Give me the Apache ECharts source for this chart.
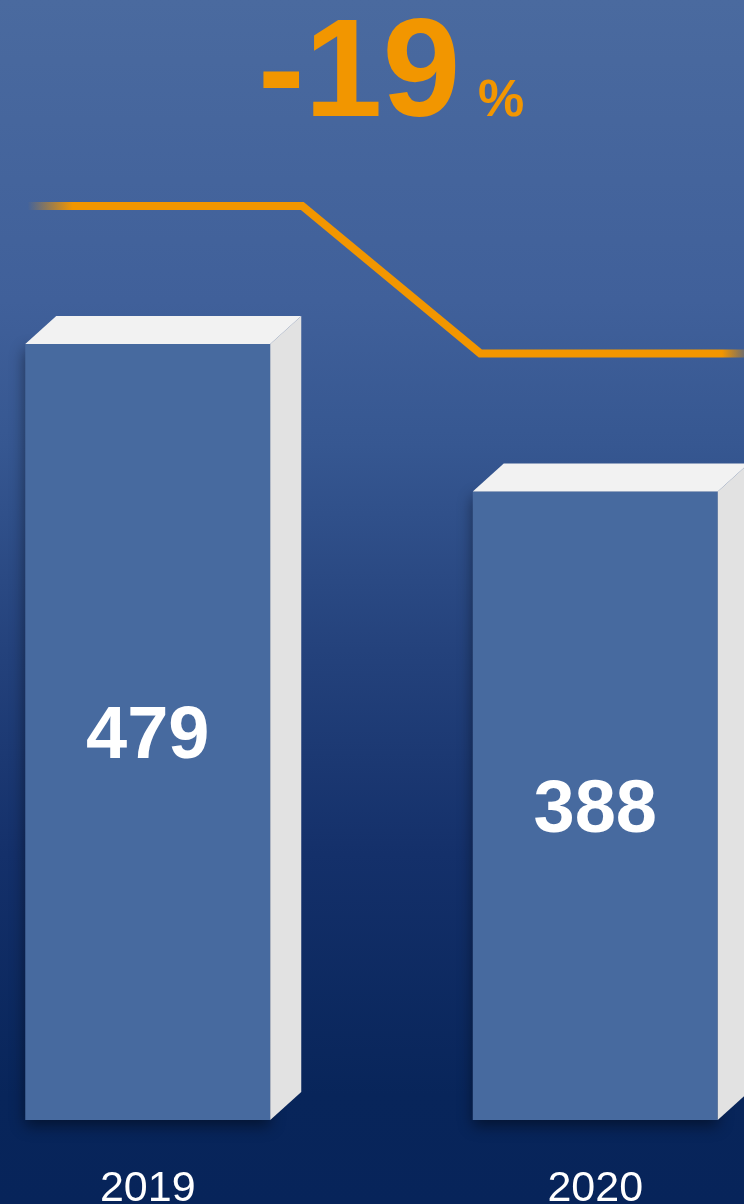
<!DOCTYPE html>
<html>
<head>
<meta charset="utf-8">
<script src="https://cdn.jsdelivr.net/npm/echarts@6/dist/echarts.min.js"></script>
<style>
  html, body { margin: 0; padding: 0; }
  #chart { width: 744px; height: 1204px; }
</style>
</head>
<body>
<div id="chart"></div>
<script>
// 数据
var years = ['2019', '2020'];
var values = [479, 388];
var changeText = '-19';

var barWidth = 245;
var depthX = 31;   // 立体侧面偏移
var depthY = 28;
var lineLift = 138; // 折线高出柱顶的像素

var chart = echarts.init(document.getElementById('chart'));

var orange = '#f29600';

var option = {
    backgroundColor: {
        type: 'linear', x: 0, y: 0, x2: 0, y2: 1,
        colorStops: [
            { offset: 0, color: '#4a6a9f' },
            { offset: 0.25, color: '#40609a' },
            { offset: 0.37, color: '#365791' },
            { offset: 0.54, color: '#24427c' },
            { offset: 0.71, color: '#14306a' },
            { offset: 0.91, color: '#08255a' },
            { offset: 1, color: '#07245a' }
        ]
    },
    graphic: [
        {
            type: 'text', left: 258, top: 7,
            style: {
                text: changeText, fill: orange,
                font: 'bold 140px "Liberation Sans", Arial, sans-serif'
            }
        },
        {
            type: 'text', left: 478, top: 76,
            style: {
                text: '%', fill: orange,
                font: 'bold 52px "Liberation Sans", Arial, sans-serif'
            }
        }
    ],
    grid: {
        left: -76,
        right: -75,
        top: 148,
        bottom: 84,
        outerBoundsMode: 'none',
        containLabel: false
    },
    xAxis: {
        type: 'category',
        data: years,
        axisLine: { show: false },
        axisTick: { show: false },
        axisLabel: {
            color: '#ffffff',
            fontSize: 43,
            fontFamily: '"Liberation Sans", Arial, sans-serif',
            margin: 48
        }
    },
    yAxis: {
        type: 'value',
        min: 0,
        max: 600,
        show: false,
        splitLine: { show: false }
    },
    series: [
        {
            type: 'bar',
            data: values,
            barWidth: barWidth,
            itemStyle: {
                color: '#476a9f',
                shadowColor: 'rgba(0,0,0,0.45)',
                shadowBlur: 14,
                shadowOffsetY: 6
            },
            label: {
                show: true,
                position: 'inside',
                offset: [0, 6],
                color: '#ffffff',
                fontSize: 74,
                fontWeight: 'bold',
                fontFamily: '"Liberation Sans", Arial, sans-serif'
            },
            z: 2
        },
        {
            // 柱子的顶面和侧面
            type: 'custom',
            data: values.map(function (v, i) { return [i, v]; }),
            renderItem: function (params, api) {
                var top = api.coord([api.value(0), api.value(1)]);
                var bot = api.coord([api.value(0), 0]);
                var l = top[0] - barWidth / 2;
                var r = top[0] + barWidth / 2;
                return {
                    type: 'group',
                    children: [
                        {
                            type: 'polygon',
                            shape: { points: [[l, top[1]], [r, top[1]], [r + depthX, top[1] - depthY], [l + depthX, top[1] - depthY]] },
                            style: { fill: '#f2f2f2' }
                        },
                        {
                            type: 'polygon',
                            shape: { points: [[r, top[1]], [r + depthX, top[1] - depthY], [r + depthX, bot[1] - depthY], [r, bot[1]]] },
                            style: { fill: '#e2e2e2' }
                        }
                    ]
                };
            },
            z: 3
        },
        {
            // 橙色折线
            type: 'custom',
            data: [0],
            renderItem: function (params, api) {
                var a = api.coord([0, values[0]]);
                var b = api.coord([1, values[1]]);
                var x0 = a[0] - 120;
                var x3 = 744;
                var pts = [
                    [x0, a[1] - lineLift],
                    [a[0] + barWidth / 2 + depthX + 1, a[1] - lineLift],
                    [b[0] - 115, b[1] - lineLift],
                    [x3, b[1] - lineLift]
                ];
                var span = x3 - x0;
                return {
                    type: 'polyline',
                    shape: { points: pts },
                    style: {
                        fill: null,
                        lineWidth: 8,
                        stroke: new echarts.graphic.LinearGradient(x0, 0, x3, 0, [
                            { offset: 0, color: 'rgba(242,150,0,0)' },
                            { offset: 45 / span, color: orange },
                            { offset: 1 - 22 / span, color: orange },
                            { offset: 1, color: 'rgba(242,150,0,0.3)' }
                        ], true)
                    }
                };
            },
            z: 4
        }
    ]
};

chart.setOption(option);
</script>
</body>
</html>
